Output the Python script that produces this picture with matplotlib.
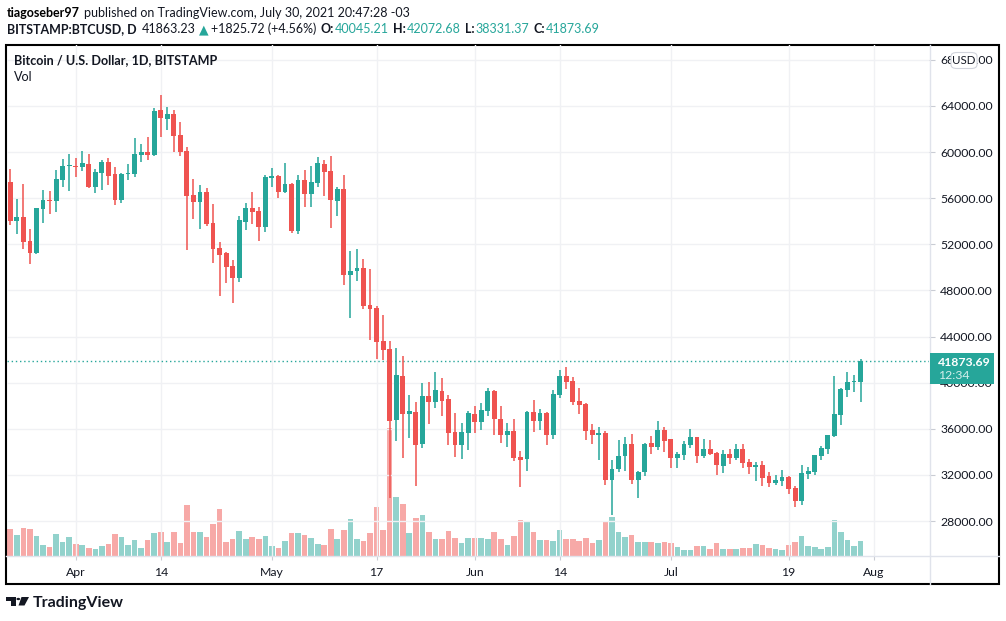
import numpy as np
import pandas as pd
import matplotlib
matplotlib.use('Agg')
import matplotlib.pyplot as plt
from matplotlib.patches import Rectangle, FancyBboxPatch, Polygon, Circle
from matplotlib.lines import Line2D

plt.rcParams['font.family'] = ['Lato', 'DejaVu Sans']

# daily candles BITSTAMP:BTCUSD, 2021-03-22 .. 2021-07-30
dates = pd.date_range("2021-03-22", "2021-07-30", freq="D")

opens = [57410, 54060, 54370, 52290, 51250, 55070, 55850, 55790, 57580, 58760,
         58800, 58710, 58970, 56980, 58190, 59140, 58100, 55850, 58080, 58100,
         59750, 60010, 59750, 63650, 62870, 63310, 61490, 60100, 56280, 55670,
         56540, 53850, 51680, 51250, 50120, 49080, 53940, 55150, 54890, 53510,
         57760, 57930, 56540, 57240, 53160, 57580, 56370, 57320, 58970, 58360,
         55760, 56800, 49340, 49690, 49950, 46740, 46480, 43620, 42930, 36770,
         40580, 37290, 37460, 34690, 38850, 38330, 39280, 38590, 35730, 34600,
         35640, 37290, 36590, 37550, 39280, 36850, 35470, 35810, 33560, 33380,
         37460, 36680, 37370, 35470, 38940, 40580, 40150, 38420, 38150, 35900,
         35470, 35640, 31560, 32520, 33640, 34690, 31560, 32260, 34770, 34430,
         35900, 35120, 33470, 33730, 34600, 35290, 33640, 34250, 33900, 32780,
         33820, 33470, 34250, 33120, 32690, 32860, 31910, 31300, 31480, 31820,
         30870, 29740, 32080, 32260, 33640, 34250, 35380, 37200, 39370, 40020,
         40045.21]
highs = [58540, 55930, 57240, 53330, 55150, 56720, 56630, 58450, 59400, 59840,
         59490, 60100, 59840, 58540, 59320, 59490, 58710, 58190, 58970, 61230,
         60700, 61310, 63830, 64950, 63910, 63650, 62610, 60440, 57670, 57150,
         56890, 55500, 52210, 51300, 50640, 54460, 55590, 56540, 55240, 58020,
         58620, 58020, 59060, 57320, 58020, 58450, 58800, 59580, 59320, 59660,
         56980, 58020, 51420, 51600, 50730, 49860, 46650, 45870, 43620, 43010,
         42320, 38940, 38330, 39980, 40060, 40930, 40410, 38940, 37370, 36510,
         37550, 37980, 38240, 39540, 39400, 37980, 36510, 36850, 34080, 37550,
         38500, 37720, 37460, 39370, 41100, 41360, 40500, 39540, 38240, 36420,
         36160, 35810, 33300, 35030, 35290, 35550, 32300, 34770, 35380, 36680,
         36160, 35120, 33990, 34950, 35990, 35290, 35120, 35030, 33990, 34170,
         34250, 34690, 34690, 33380, 33120, 33210, 32260, 32000, 32430, 31910,
         31040, 32860, 32690, 33730, 34510, 35470, 40580, 39540, 40930, 40670,
         42072.68]
lows = [53710, 52900, 51600, 50300, 51160, 53850, 54630, 54810, 56980, 56630,
        57840, 58360, 56890, 56450, 56720, 57150, 55410, 55590, 57580, 57840,
        59140, 59320, 59700, 61310, 61920, 60010, 59660, 51510, 54200, 53330,
        53590, 50380, 47520, 48650, 46910, 48740, 53250, 53770, 52290, 53070,
        56980, 56020, 56450, 52990, 52900, 55240, 55240, 56980, 56190, 53420,
        54460, 48480, 45610, 48820, 46390, 43710, 42060, 41970, 30000, 34950,
        33470, 35210, 31040, 34340, 36420, 37810, 37110, 34600, 33560, 33380,
        34170, 35640, 35900, 37110, 35470, 34770, 34430, 33210, 30960, 32340,
        35730, 35900, 34600, 35120, 38680, 39460, 38070, 37290, 35030, 34690,
        33300, 31130, 28530, 32260, 32340, 31220, 30000, 31910, 33820, 34170,
        33990, 32600, 32600, 33300, 34340, 33040, 33470, 33730, 32000, 32170,
        32950, 33300, 32600, 32080, 31480, 31040, 30960, 31130, 31040, 30350,
        29220, 29400, 31650, 32000, 33300, 33820, 35290, 36330, 38760, 39200,
        38331.37]
closes = [54060, 54370, 52210, 51250, 55150, 55850, 55790, 57670, 58800, 58790,
          58740, 59060, 56980, 58280, 59140, 57930, 55850, 58100, 58120, 59840,
          60010, 59750, 63570, 62960, 63310, 61400, 60010, 56190, 55670, 56540,
          53770, 51600, 51080, 50040, 49080, 54110, 55150, 54810, 53510, 57840,
          57930, 56540, 57240, 53160, 57580, 56370, 57410, 59060, 58280, 55850,
          56800, 49340, 49690, 49950, 46650, 46390, 43530, 42840, 36680, 40670,
          37290, 37550, 34600, 38850, 38330, 39370, 38420, 35640, 34600, 35730,
          37370, 36590, 37640, 39280, 36850, 35470, 35810, 33470, 33300, 37460,
          36680, 37370, 35470, 39020, 40580, 40060, 38330, 38070, 35810, 35470,
          35640, 31560, 32520, 33640, 34690, 31560, 32260, 34690, 34430, 35900,
          34950, 33470, 33820, 34690, 35290, 33640, 34250, 33820, 32860, 33820,
          33470, 34250, 33040, 32690, 32860, 31740, 31300, 31560, 31820, 30780,
          29740, 32170, 32340, 33730, 34340, 35470, 37290, 39460, 40060, 40045.21,
          41873.69]
volumes = [8100, 6300, 8400, 8100, 6000, 3300, 2700, 6600, 4200, 5700,
           3600, 3300, 2400, 2100, 3000, 3600, 6600, 5700, 3300, 4800,
           2400, 4800, 6900, 7200, 4200, 7200, 3900, 15300, 7200, 7200,
           5700, 9600, 14100, 4200, 5100, 7500, 5100, 5700, 5100, 6000,
           3000, 2400, 4500, 6900, 6900, 6300, 5400, 3600, 3300, 8100,
           5100, 7800, 11100, 5100, 4500, 6900, 14700, 7800, 38400, 17700,
           15600, 6900, 11400, 12300, 7200, 5100, 5100, 7500, 5400, 3900,
           5400, 5400, 5400, 5100, 7200, 5100, 3300, 6000, 10800, 10200,
           7200, 4800, 4800, 4500, 7800, 5100, 5100, 4500, 5400, 3900,
           4800, 10500, 11700, 7200, 5700, 6300, 4200, 4200, 4200, 3900,
           4200, 3900, 2700, 1800, 1800, 3000, 3000, 2100, 3900, 2100,
           2100, 2100, 2400, 2400, 3600, 3300, 2400, 2100, 1800, 3300,
           4200, 6000, 3000, 2700, 2100, 2700, 10800, 7200, 4800, 3000,
           4500]

month_ticks = ["2021-04-01", "2021-04-14", "2021-05-01", "2021-05-17", "2021-06-01",
               "2021-06-14", "2021-07-01", "2021-07-19", "2021-08-01"]
month_labels = ["Apr", "14", "May", "17", "Jun", "14", "Jul", "19", "Aug"]
price_ticks = list(range(28000, 68001, 4000))

UP = "#26a69a"
DOWN = "#ef5350"
UP_VOL = "#92d2cc"
DOWN_VOL = "#f7a9a7"
TXT = "#131722"
GRID = "#f0f1f4"

W, H = 1006, 621
fig = plt.figure(figsize=(W / 100, H / 100), dpi=100)
fig.patch.set_facecolor("white")


def fx(px):
    return px / W


def fy(py):
    return 1 - py / H


ax = fig.add_axes([fx(7), fy(556), fx(929) - fx(7), fy(45) - fy(556)])
axv = ax.twinx()
ax.set_zorder(axv.get_zorder() + 1)
ax.patch.set_visible(False)

x = np.arange(len(dates))
o = np.array(opens, dtype=float)
h = np.array(highs, dtype=float)
l = np.array(lows, dtype=float)
c = np.array(closes, dtype=float)
up = c >= o
colors = np.where(up, UP, DOWN)

# volume pane
axv.bar(x, volumes, width=0.86, color=np.where(up, UP_VOL, DOWN_VOL), linewidth=0)
axv.set_ylim(0, 153300)
axv.set_yticks([])
for s in axv.spines.values():
    s.set_visible(False)

# candles
ax.vlines(x, l, h, colors=colors, linewidth=1.1, zorder=3)
body = np.maximum(np.abs(c - o), 90)
ax.bar(x, body, bottom=np.minimum(o, c), width=0.74, color=colors, linewidth=0, zorder=4)

ax.axhline(c[-1], color=UP, linewidth=1, linestyle=(0, (1, 2)), zorder=2)

ax.set_xlim(-0.505, 140.47)
ax.set_ylim(24971, 69290)
ax.yaxis.tick_right()
ax.set_yticks(price_ticks)
ax.yaxis.set_major_formatter(lambda v, p: f"{v:.2f}")
xt = [(pd.Timestamp(d) - dates[0]).days for d in month_ticks]
ax.set_xticks(xt)
ax.set_xticklabels(month_labels)
ax.tick_params(axis="y", length=4, color="#c9ccd4", labelsize=8.8, labelcolor=TXT, pad=4)
ax.tick_params(axis="x", length=3, color="#c9ccd4", labelsize=8.8, labelcolor=TXT, pad=5)
ax.grid(True, color=GRID, linewidth=1, zorder=0)
ax.set_axisbelow(True)
for s in ax.spines.values():
    s.set_visible(False)

# frame and pane separators
fig.add_artist(Line2D([fx(6), fx(999)], [fy(556), fy(556)], color="#e0e3eb", lw=1))
fig.add_artist(Line2D([fx(929.5), fx(929.5)], [fy(45), fy(584)], color="#e0e3eb", lw=1))
fig.add_artist(Rectangle((fx(6), fy(584)), fx(999) - fx(6), fy(45) - fy(584),
                         fill=False, edgecolor="black", lw=1.5))

# last price label
fig.add_artist(Rectangle((fx(929.5), fy(383.5)), fx(994) - fx(929.5), fy(353) - fy(383.5),
                         facecolor=UP, edgecolor="none", zorder=10))
fig.text(fx(938), fy(362), f"{c[-1]:.2f}", color="white", fontsize=8.8,
         fontweight="bold", va="center", ha="left", zorder=11)
fig.text(fx(938), fy(375.5), "12:34", color="#d5eeeb", fontsize=8.8,
         va="center", ha="left", zorder=11)

# USD badge
fig.add_artist(FancyBboxPatch((fx(951), fy(68.5)), fx(977) - fx(951), fy(52.5) - fy(68.5),
                              boxstyle="round,pad=0,rounding_size=0.006",
                              facecolor="white", edgecolor="#d1d4dc", lw=0.8, zorder=10))
fig.text(fx(964), fy(60.5), "USD", color=TXT, fontsize=8.3, va="center", ha="center", zorder=11)

# pane titles
fig.text(fx(14), fy(60), "Bitcoin / U.S. Dollar, 1D, BITSTAMP", color=TXT, fontsize=9.1,
         fontweight="bold", va="center")
fig.text(fx(14), fy(77), "Vol", color=TXT, fontsize=9.1, va="center")

# header lines
renderer = fig.canvas.get_renderer()


def run(px, py, parts, size=9):
    for s, col, wt, gap in parts:
        t = fig.text(fx(px), fy(py), s, color=col, fontsize=size, fontweight=wt,
                     va="center", ha="left")
        px += t.get_window_extent(renderer).width + gap


run(7, 13, [("tiagoseber97", "black", "bold", 4),
            ("published on TradingView.com, July 30, 2021 20:47:28 -03", TXT, "normal", 0)])
run(7, 29, [("BITSTAMP:BTCUSD, D", TXT, "bold", 5),
            ("41863.23", TXT, "normal", 3),
            ("\u25b2", UP, "normal", 3),
            ("+1825.72 (+4.56%)", TXT, "normal", 4),
            ("O:", TXT, "bold", 1), (f"{o[-1]:.2f}", UP, "normal", 4),
            ("H:", TXT, "bold", 1), (f"{h[-1]:.2f}", UP, "normal", 4),
            ("L:", TXT, "bold", 1), (f"{l[-1]:.2f}", UP, "normal", 4),
            ("C:", TXT, "bold", 1), (f"{c[-1]:.2f}", UP, "normal", 0)])

# TradingView logo
fig.add_artist(Polygon([(fx(6), fy(597)), (fx(15.5), fy(597)), (fx(15.5), fy(605.5)),
                        (fx(11), fy(605.5)), (fx(11), fy(601)), (fx(6), fy(601))],
                       closed=True, facecolor=TXT, edgecolor="none"))
fig.add_artist(Circle((fx(18.3), fy(599)), 1.9 / W, facecolor=TXT, edgecolor="none"))
fig.add_artist(Polygon([(fx(21.5), fy(597)), (fx(29), fy(597)), (fx(24.5), fy(605.5)),
                        (fx(18.5), fy(605.5))],
                       closed=True, facecolor=TXT, edgecolor="none"))
fig.text(fx(33), fy(602.5), "TradingView", color=TXT, fontsize=11.5, fontweight="bold",
         va="center", ha="left")

fig.savefig("out.png", dpi=100, facecolor="white")
